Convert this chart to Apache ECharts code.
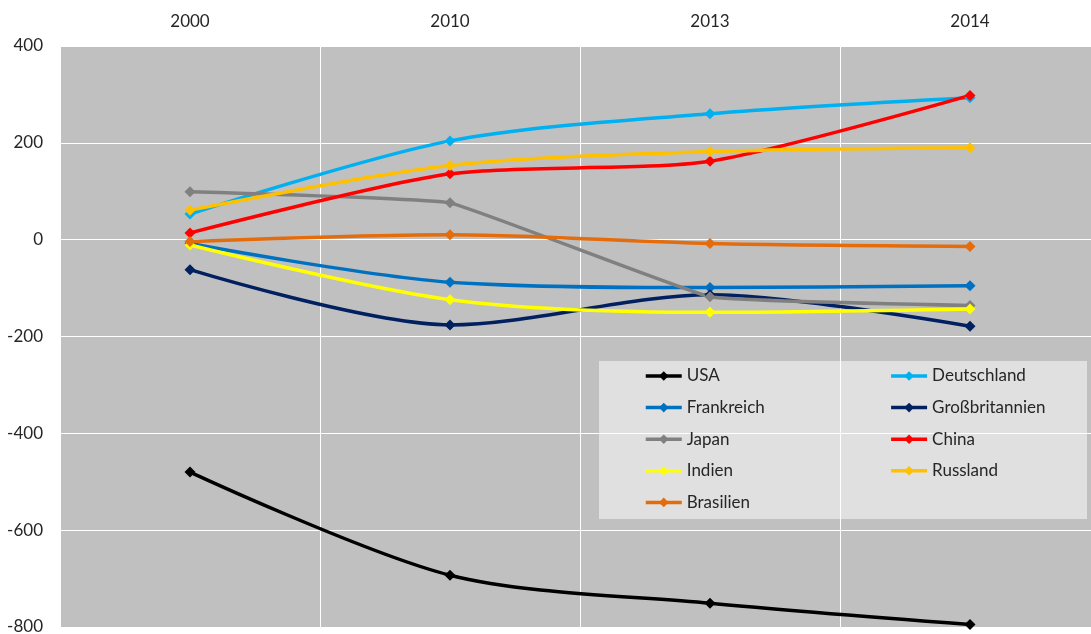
<!DOCTYPE html>
<html>
<head>
<meta charset="utf-8">
<script src="https://cdn.jsdelivr.net/npm/echarts@6/dist/echarts.min.js"></script>
<style>
  html, body { margin: 0; padding: 0; background: #ffffff; }
  #chart { width: 1091px; height: 634px; }
</style>
</head>
<body>
<div id="chart"></div>
<script>
// Jahre (Kategorien) und Werte je Land
const years = ['2000', '2010', '2013', '2014'];
const yTicks = { min: -800, max: 400, interval: 200 };

const usa            = [-480, -693, -751, -795];
const deutschland    = [53, 204, 260, 293];
const frankreich     = [-8, -88, -99, -95];
const grossbritannien = [-62, -176, -114, -179];
const japan          = [99, 76, -118, -136];
const china          = [14, 136, 162, 298];
const indien         = [-11, -124, -150, -143];
const russland       = [61, 153, 182, 190];
const brasilien      = [-4, 10, -8, -14];

// name, values, colour, curve smoothing
const seriesDefs = [
  ['USA', usa, '#000000', 0.3],
  ['Deutschland', deutschland, '#00b0f0', 0.3],
  ['Frankreich', frankreich, '#0070c0', 0.3],
  ['Großbritannien', grossbritannien, '#002060', 0.3],
  ['Japan', japan, '#808080', 0.08],
  ['China', china, '#ff0000', 0.25],
  ['Indien', indien, '#ffff00', 0.3],
  ['Russland', russland, '#ffc000', 0.3],
  ['Brasilien', brasilien, '#e46c0a', 0.3]
];

const FONT = 'Lato';
const TEXT = '#262626';

const chart = echarts.init(document.getElementById('chart'), null, { renderer: 'canvas' });

chart.setOption({
  animation: false,
  backgroundColor: '#ffffff',
  grid: {
    left: 60, top: 46, width: 1040, height: 581,
    outerBoundsMode: 'none',
    containLabel: false,
    show: true, backgroundColor: '#c0c0c0', borderWidth: 0
  },
  graphic: [{
    type: 'rect',
    z: 1,
    shape: { x: 599, y: 361, width: 488, height: 158 },
    style: { fill: 'rgba(255,255,255,0.5)' }
  }],
  legend: {
    left: 644, top: 366, width: 500,
    orient: 'horizontal',
    padding: 0,
    itemGap: 11.6,
    itemWidth: 36, itemHeight: 12,
    z: 5,
    lineStyle: { width: 3.5 },
    textStyle: {
      fontFamily: FONT, fontSize: 17, color: TEXT,
      width: 191, lineHeight: 20
    },
    data: seriesDefs.map(d => d[0])
  },
  xAxis: {
    type: 'category',
    position: 'top',
    data: years,
    boundaryGap: true,
    axisLine: { show: false },
    axisTick: { show: false },
    axisLabel: { fontFamily: FONT, fontSize: 17, color: TEXT, margin: 16 },
    splitLine: { show: true, lineStyle: { color: '#ffffff', width: 1 } }
  },
  yAxis: {
    type: 'value',
    min: yTicks.min, max: yTicks.max, interval: yTicks.interval,
    axisLine: { show: false },
    axisTick: { show: false },
    axisLabel: { fontFamily: FONT, fontSize: 17, color: TEXT, margin: 17 },
    splitLine: { show: true, lineStyle: { color: '#ffffff', width: 1 } }
  },
  series: seriesDefs.map(([name, values, color, smooth]) => ({
    name,
    type: 'line',
    data: values,
    smooth,
    symbol: 'diamond',
    symbolSize: 11,
    showSymbol: true,
    lineStyle: { color, width: 3.5 },
    itemStyle: { color },
    z: 3
  }))
});
</script>
</body>
</html>
